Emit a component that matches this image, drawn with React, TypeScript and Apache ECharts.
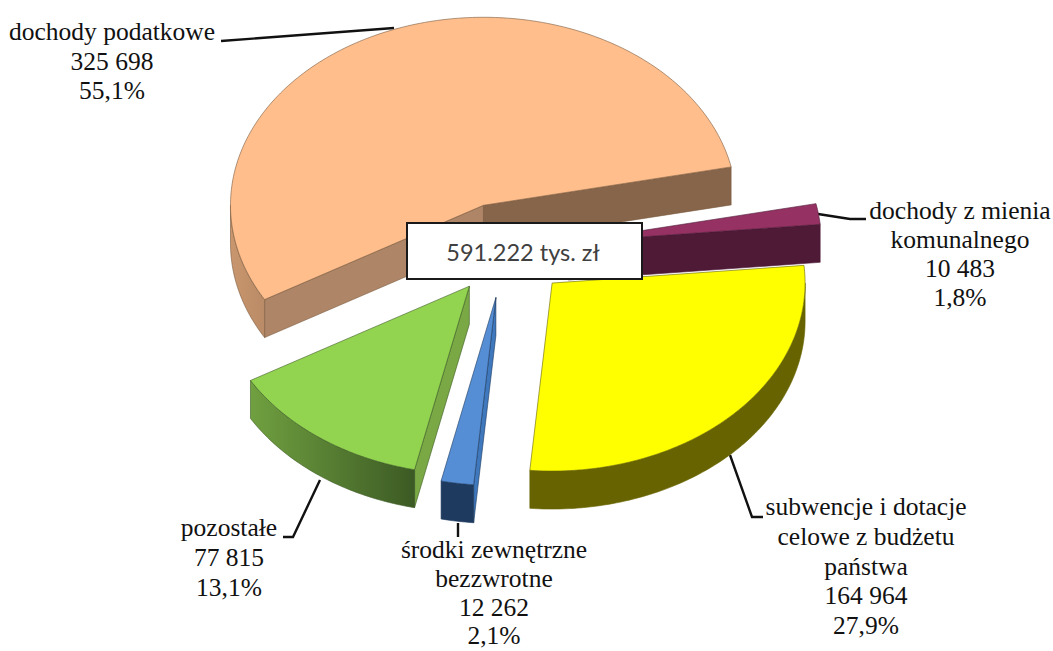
import React, { useEffect, useRef } from "react";
import * as echarts from "echarts";

// ---- data (in drawing order, clockwise on screen) ----
const sliceNames = [
  "dochody podatkowe",
  "dochody z mienia\nkomunalnego",
  "subwencje i dotacje\ncelowe z budżetu\npaństwa",
  "środki zewnętrzne\nbezzwrotne",
  "pozostałe",
];
const sliceValues = [325698, 10483, 164964, 12262, 77815];
const valueLabels = ["325 698", "10 483", "164 964", "12 262", "77 815"];
const percentLabels = ["55,1%", "1,8%", "27,9%", "2,1%", "13,1%"];
const totalLabel = "591.222 tys. zł";

// ---- projection of the tilted pie ----
const W = 1053;
const H = 651;
const BASE = { x: 506, y: 249 };
const RX = 253;
const RY = 188;
const DEPTH = 38;
const FIRST_ANGLE = 149.9;
const explode = [63, 63, 65, 66, 62];

// ---- styles ----
const topColors = ["#FFBE8C", "#953163", "#FFFF00", "#558ED5", "#92D450"];
const wallStart = ["#C9966E", "#4E1A35", "#666300", "#1F3A5F", "#70A040"];
const wallEnd = ["#B98B66", "#4E1A35", "#666300", "#1F3A5F", "#3C5A24"];
const faceStartColors = ["#AE8566", "#4E1A35", "#666300", "#3F78BC", "#79A845"];
const faceEndColors = ["#87654A", "#4E1A35", "#666300", "#1F3A5F", "#5F8A38"];
const edgeColors = ["#7A5A3E", "#4E1A35", "#666300", "#1F3A5F", "#3C5A24"];

const labelLayout = [
  { x: 112, y: 17, lineHeight: 29.5 },
  { x: 960, y: 196, lineHeight: 29 },
  { x: 866, y: 492, lineHeight: 29.7 },
  { x: 494, y: 535, lineHeight: 28.8 },
  { x: 229, y: 512, lineHeight: 30 },
];
const leaderLines = [
  [[221, 41], [394, 28]],
  [[818, 214], [850, 219], [866, 219]],
  [[730, 455], [752, 517], [763, 517]],
  [[458, 523], [458, 537]],
  [[320, 480], [293, 537], [283, 537]],
];

const total = sliceValues.reduce((a, b) => a + b, 0);
const spans: [number, number][] = [];
{
  let a = FIRST_ANGLE;
  for (const v of sliceValues) {
    const b = a + (v / total) * 360;
    spans.push([a, b]);
    a = b;
  }
}
const rad = (d: number) => (d * Math.PI) / 180;

function arc(cx: number, cy: number, from: number, to: number, dy = 0) {
  const pts: number[][] = [];
  const n = Math.max(2, Math.ceil(Math.abs(to - from)));
  for (let i = 0; i <= n; i++) {
    const t = rad(from + ((to - from) * i) / n);
    pts.push([cx + RX * Math.cos(t), cy + RY * Math.sin(t) + dy]);
  }
  return pts;
}

function renderSlice(params: any, api: any) {
  const i = params.dataIndex;
  const [t0, t1] = spans[i];
  const mid = rad(((api.value(0) / total) * 360) / 2 + t0);
  const cx = BASE.x + explode[i] * Math.cos(mid);
  const cy = BASE.y + (explode[i] * Math.sin(mid) * RY) / RX;
  const edge = { stroke: edgeColors[i], lineWidth: 0.6 };
  const children: any[] = [];

  const face = (t: number, color: string) => {
    const px = cx + RX * Math.cos(rad(t));
    const py = cy + RY * Math.sin(rad(t));
    children.push({
      type: "polygon",
      shape: { points: [[cx, cy], [px, py], [px, py + DEPTH], [cx, cy + DEPTH]] },
      style: { fill: color, ...edge },
    });
  };
  // a cut face shows only when its outward normal points towards the viewer
  if (Math.sin(rad(t0 - 90)) > 0) face(t0, faceStartColors[i]);
  if (Math.sin(rad(t1 + 90)) > 0) face(t1, faceEndColors[i]);

  // outer wall: only the front half of the rim can be seen
  for (const [a, b] of [[0, 180], [360, 540]]) {
    const from = Math.max(t0, a);
    const to = Math.min(t1, b);
    if (to > from) {
      children.push({
        type: "polygon",
        shape: {
          points: [...arc(cx, cy, from, to), ...arc(cx, cy, to, from, DEPTH)],
        },
        style: {
          fill: new echarts.graphic.LinearGradient(0, 0, 1, 0, [
            { offset: 0, color: wallStart[i] },
            { offset: 1, color: wallEnd[i] },
          ]),
          ...edge,
        },
      });
    }
  }

  children.push({
    type: "polygon",
    shape: { points: [[cx, cy], ...arc(cx, cy, t0, t1)] },
    style: { fill: topColors[i], stroke: edgeColors[i], lineWidth: 0.6 },
  });
  return { type: "group", children };
}

export default function App() {
  const ref = useRef<HTMLDivElement>(null);
  useEffect(() => {
    const chart = echarts.init(ref.current!, null, { renderer: "svg" });
    const labelGraphics = sliceNames.map((name, i) => ({
      type: "text",
      z: 20,
      x: labelLayout[i].x,
      y: labelLayout[i].y,
      style: {
        text: `${name}\n${valueLabels[i]}\n${percentLabels[i]}`,
        fill: "#111111",
        font: '25.5px "Liberation Serif"',
        lineHeight: labelLayout[i].lineHeight,
        align: "center",
        verticalAlign: "top",
      },
    }));
    const lineGraphics = leaderLines.map((points) => ({
      type: "polyline",
      z: 5,
      shape: { points },
      style: { stroke: "#111111", lineWidth: 2.4, fill: "none" },
    }));
    chart.setOption({
      animation: false,
      backgroundColor: "#ffffff",
      series: [
        {
          type: "custom",
          coordinateSystem: "none",
          silent: true,
          z: 10,
          data: sliceValues.map((v, i) => ({ name: sliceNames[i], value: [v] })),
          renderItem: renderSlice,
        },
      ],
      graphic: [
        ...lineGraphics,
        ...labelGraphics,
        {
          type: "rect",
          z: 30,
          shape: { x: 407, y: 223, width: 235, height: 56 },
          style: { fill: "#ffffff", stroke: "#1a1a1a", lineWidth: 2 },
        },
        {
          type: "text",
          z: 31,
          x: 523,
          y: 252,
          style: {
            text: totalLabel,
            fill: "#404040",
            font: "23.5px Lato",
            align: "center",
            verticalAlign: "middle",
          },
        },
      ],
    });
    return () => chart.dispose();
  }, []);
  return (
    <div
      ref={ref}
      style={{ position: "fixed", left: 0, top: 0, width: W, height: H }}
    />
  );
}
